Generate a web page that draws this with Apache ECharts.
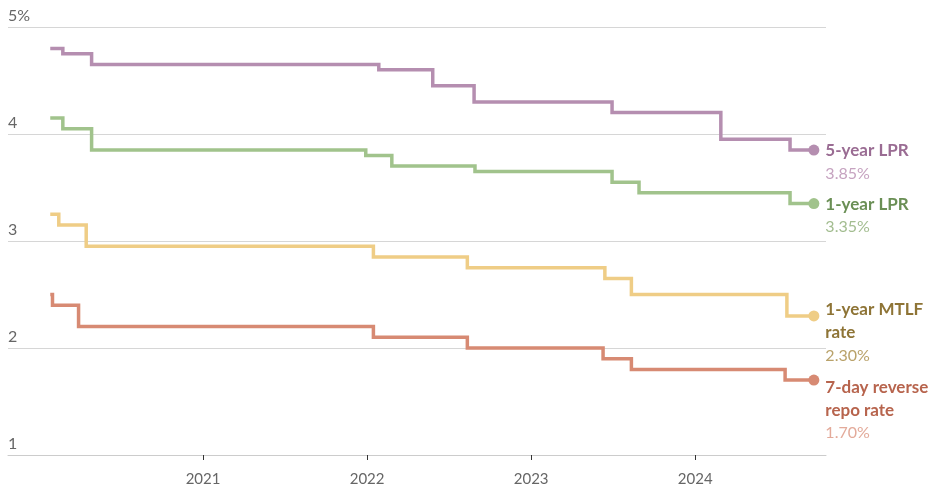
<!DOCTYPE html>
<html>
<head>
<meta charset="utf-8">
<title>China policy rates</title>
<script src="https://cdn.jsdelivr.net/npm/echarts@6/dist/echarts.min.js"></script>
<style>
  html, body { margin: 0; padding: 0; background: #fff; }
  #chart { width: 945px; height: 489px; }
</style>
</head>
<body>
<div id="chart"></div>
<script>
// Policy rates, % (each value holds from its date until the next change)
const endDate = '2024-09-21';

const lpr5Dates = ['2020-01-27', '2020-02-24', '2020-04-28', '2022-01-27', '2022-05-27', '2022-08-27', '2023-06-30', '2024-02-27', '2024-07-30'];
const lpr5Values = [4.80, 4.75, 4.65, 4.60, 4.45, 4.30, 4.20, 3.95, 3.85];

const lpr1Dates = ['2020-01-27', '2020-02-24', '2020-04-28', '2021-12-29', '2022-02-25', '2022-08-29', '2023-06-30', '2023-08-29', '2024-07-30'];
const lpr1Values = [4.15, 4.05, 3.85, 3.80, 3.70, 3.65, 3.55, 3.45, 3.35];

const mlfDates = ['2020-01-27', '2020-02-15', '2020-04-16', '2022-01-15', '2022-08-12', '2023-06-14', '2023-08-12', '2024-07-23'];
const mlfValues = [3.25, 3.15, 2.95, 2.85, 2.75, 2.65, 2.50, 2.30];

const repoDates = ['2020-01-27', '2020-02-01', '2020-03-30', '2022-01-15', '2022-08-12', '2023-06-10', '2023-08-12', '2024-07-19'];
const repoValues = [2.50, 2.40, 2.20, 2.10, 2.00, 1.90, 1.80, 1.70];

const tickYears = [2021, 2022, 2023, 2024];
const yTicks = [1, 2, 3, 4, 5];

const FONT = 'Lato, "Source Sans Pro", "Noto Sans", sans-serif';
const ts = d => Date.parse(d + 'T00:00:00Z');

function buildSeries(name, dates, values, lineColor, nameColor, valueColor, labelShift) {
  const last = values[values.length - 1];
  const data = dates.map((d, i) => [ts(d), values[i]]);
  data.push({
    value: [ts(endDate), last],
    symbol: 'circle',
    symbolSize: 11,
    label: {
      show: true,
      position: 'right',
      distance: 6,
      offset: [0, labelShift],
      formatter: () => name.split('\n').map(s => '{n|' + s + '}').join('\n') + '\n{v|' + last.toFixed(2) + '%}',
      rich: {
        n: { fontFamily: FONT, fontSize: 17, fontWeight: 'bold', color: nameColor, lineHeight: 23 },
        v: { fontFamily: FONT, fontSize: 16, color: valueColor, lineHeight: 23 }
      }
    }
  });
  return {
    name: name,
    type: 'line',
    step: 'end',
    data: data,
    showSymbol: true,
    symbol: 'none',
    lineStyle: { color: lineColor, width: 3.5, join: 'miter' },
    itemStyle: { color: lineColor },
    emphasis: { disabled: true },
    silent: true,
    z: 3
  };
}

const chart = echarts.init(document.getElementById('chart'), null, { renderer: 'canvas' });
const yearTicks = tickYears.map(y => Date.UTC(y, 0, 1));

chart.setOption({
  animation: false,
  backgroundColor: '#ffffff',
  grid: { left: 8, right: 119, top: 27, bottom: 34, containLabel: false },
  xAxis: {
    type: 'value',
    min: ts('2019-10-25'),
    max: ts('2024-10-18'),
    axisLine: { show: true, lineStyle: { color: '#cccccc', width: 1 } },
    axisTick: {
      show: true,
      length: 5,
      lineStyle: { color: '#333333', width: 1 },
      customValues: yearTicks
    },
    axisLabel: {
      show: true,
      margin: 17,
      color: '#666666',
      fontFamily: FONT,
      fontSize: 15,
      customValues: yearTicks,
      formatter: v => String(new Date(v).getUTCFullYear())
    },
    splitLine: { show: false }
  },
  yAxis: {
    type: 'value',
    min: 1,
    max: 5,
    interval: 1,
    axisLine: { show: false },
    axisTick: { show: false },
    splitLine: { show: true, lineStyle: { color: '#d6d6d6', width: 1 } },
    axisLabel: {
      inside: true,
      margin: 0,
      verticalAlign: 'bottom',
      padding: [0, 0, 3, 0],
      color: '#666666',
      fontFamily: FONT,
      fontSize: 16,
      formatter: v => (v === yTicks[yTicks.length - 1] ? v + '%' : String(v))
    }
  },
  series: [
    buildSeries('5-year LPR', lpr5Dates, lpr5Values, '#b58eb0', '#9a6c93', '#c6a3c0', 12),
    buildSeries('1-year LPR', lpr1Dates, lpr1Values, '#a1c38c', '#6a8f55', '#a3bd90', 12),
    buildSeries('1-year MTLF\nrate', mlfDates, mlfValues, '#efcd86', '#8e7436', '#b9a26a', 17),
    buildSeries('7-day reverse\nrepo rate', repoDates, repoValues, '#d78a73', '#b7644d', '#e3aa9a', 30)
  ]
});
</script>
</body>
</html>
